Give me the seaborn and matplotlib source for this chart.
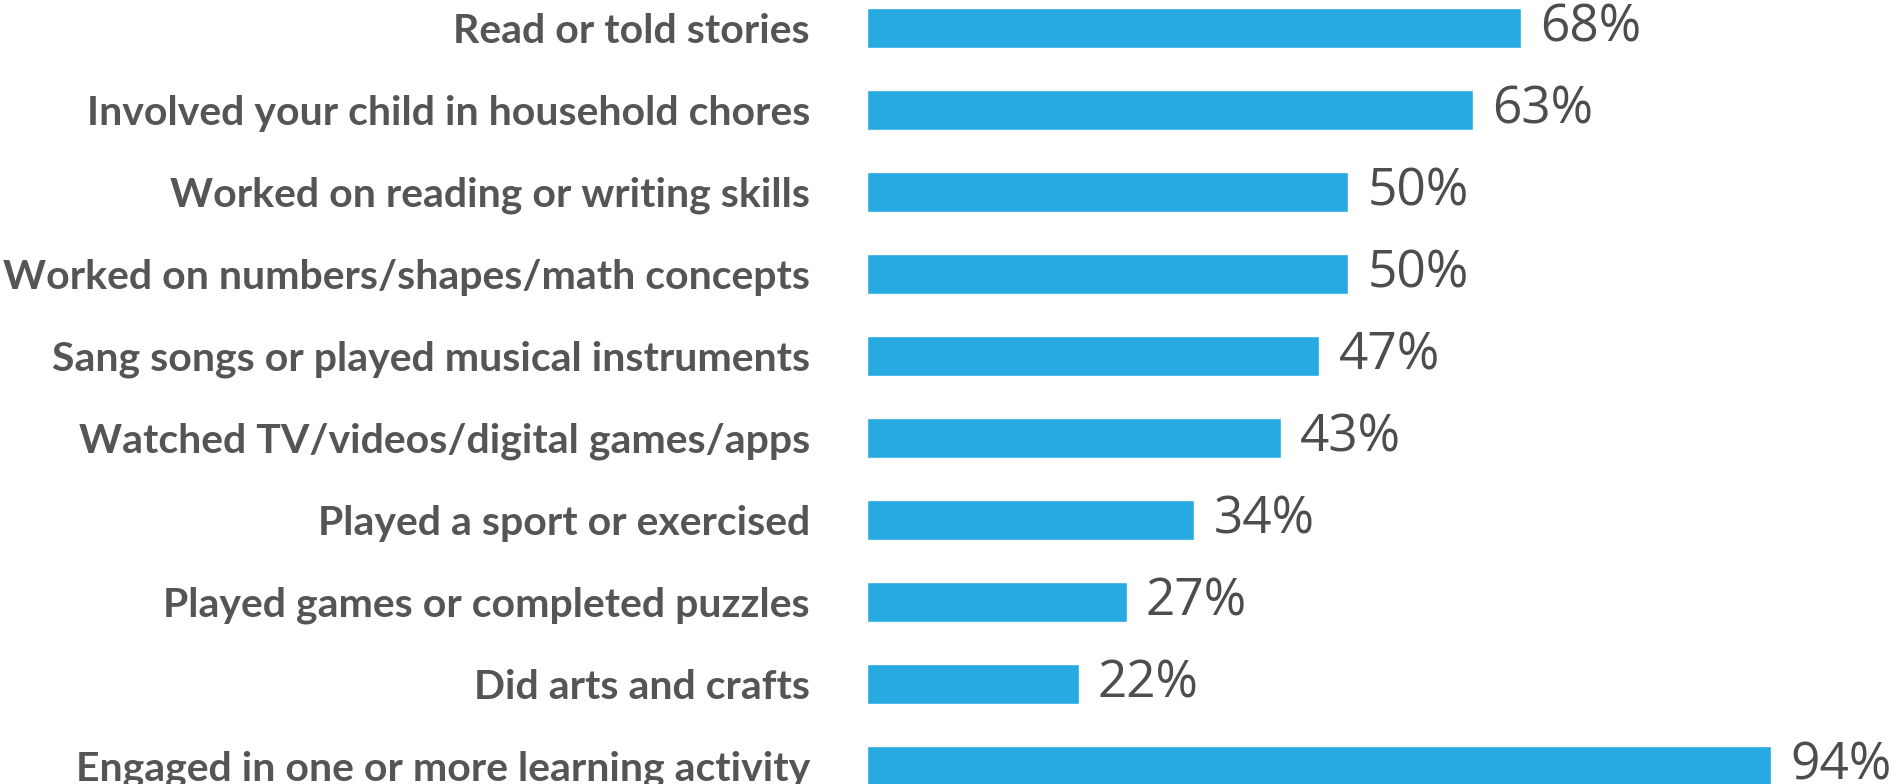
import matplotlib
matplotlib.use("Agg")
import matplotlib.pyplot as plt
import seaborn as sns
import pandas as pd

# survey answers, top to bottom
activities = ["Read or told stories",
              "Involved your child in household chores",
              "Worked on reading or writing skills",
              "Worked on numbers/shapes/math concepts",
              "Sang songs or played musical instruments",
              "Watched TV/videos/digital games/apps",
              "Played a sport or exercised",
              "Played games or completed puzzles",
              "Did arts and crafts",
              "Engaged in one or more learning activity"]
percent = [68, 63, 50, 50, 47, 43, 34, 27, 22, 94]

df = pd.DataFrame({"activity": activities, "percent": percent})

barColor = "#27a9e1"
textColor = "#555555"

sns.set_style("white")
fig = plt.figure(figsize=(18.99, 7.84), dpi=100)
ax = fig.add_axes([867/1899, 0, 1 - 867/1899, 1])

sns.barplot(data=df, x="percent", y="activity", orient="h",
            color=barColor, width=0.48, saturation=1, ax=ax)

ax.set_xlim(0, 1032/9.62)
ax.set_ylim(9.22, -0.34)
sns.despine(ax=ax, left=True, bottom=True)
ax.set_xticks([])
ax.set_xlabel("")
ax.set_ylabel("")
ax.tick_params(axis="y", length=0, pad=41)
for lbl in ax.get_yticklabels():
    lbl.set_family(["Lato", "DejaVu Sans"])
    lbl.set_fontweight("bold")
    lbl.set_fontsize(29.5)
    lbl.set_color(textColor)

# value labels right of each bar
for i, val in enumerate(percent):
    ax.text(val + 2.0, i, f"{val}%", ha="left", va="center",
            fontsize=37, color="#4d4d4d", family=["Open Sans", "DejaVu Sans"])

fig.savefig("out.png", dpi=100)
